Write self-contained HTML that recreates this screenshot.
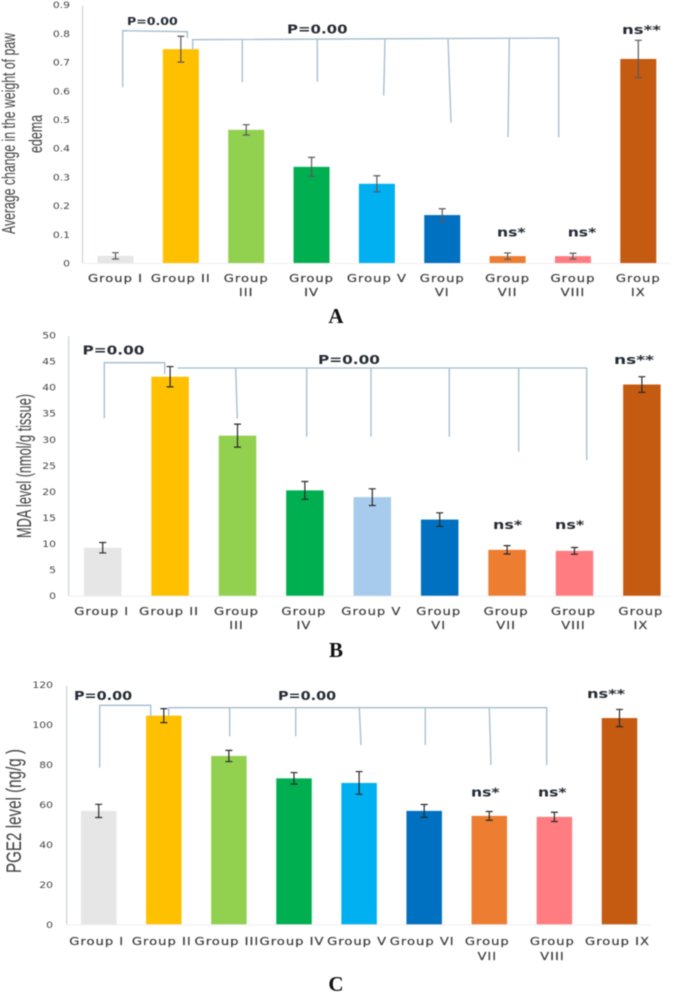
<!DOCTYPE html>
<html lang="en">
<head>
<meta charset="utf-8">
<title>Group comparison bar charts</title>
<style>
html,body{margin:0;padding:0;background:#fff;}
svg{display:block;filter:blur(0.4px);}
.tick{font-family:"DejaVu Sans","Liberation Sans",sans-serif;font-size:9px;fill:#444;}
.cat{font-family:"DejaVu Sans","Liberation Sans",sans-serif;font-size:10.5px;letter-spacing:.8px;fill:#3c3c3c;stroke:#3c3c3c;stroke-width:.2px;}
.ytitle{font-family:"Liberation Sans",sans-serif;fill:#404040;}
.sig{font-family:"DejaVu Sans","Liberation Sans",sans-serif;font-weight:bold;fill:#262b33;}
.panel{font-family:"Liberation Serif",serif;font-weight:bold;font-size:21px;fill:#111;text-anchor:middle;}
.bracket{fill:none;stroke:#a3bccd;stroke-width:1.3;}
</style>
</head>
<body>
<svg id="fig" xmlns="http://www.w3.org/2000/svg" width="676" height="992" viewBox="0 0 676 992">
  <g id="chart-a"></g>
  <g id="chart-b"></g>
  <g id="chart-c"></g>

  <!-- Chart A annotations -->
  <g>
    <text class="ytitle" transform="translate(15,133.5) rotate(-90)" text-anchor="middle" font-size="18" textLength="201" lengthAdjust="spacingAndGlyphs">Average change in the weight of paw</text>
    <text class="ytitle" transform="translate(42,134) rotate(-90)" text-anchor="middle" font-size="18" textLength="38" lengthAdjust="spacingAndGlyphs">edema</text>
    <path class="bracket" d="M122.7 87.3V30.7L187.3 31.7V38"/>
    <path class="bracket" d="M192.7 49V39.7L558.7 38V137.3M242.3 39.5V82.3M317.3 39.3V81.7M385 39 383.7 95.7M448 38.5 451 122.7M509.3 38.3 508 137.3"/>
    <text class="sig" transform="translate(127,25) scale(1.2,1)" font-size="10.5">P=0.00</text>
    <text class="sig" transform="translate(287,33.5) scale(1.25,1)" font-size="12">P=0.00</text>
    <text class="sig" transform="translate(497,236.7) scale(1.3,1)" font-size="12">ns*</text>
    <text class="sig" transform="translate(567.7,236.7) scale(1.3,1)" font-size="12">ns*</text>
    <text class="sig" transform="translate(622,34) scale(1.38,1)" font-size="12">ns**</text>
    <text class="panel" x="336" y="323">A</text>
  </g>

  <!-- Chart B annotations -->
  <g>
    <text class="ytitle" transform="translate(31,466) rotate(-90)" text-anchor="middle" font-size="20" textLength="144" lengthAdjust="spacingAndGlyphs">MDA level (nmol/g tissue)</text>
    <path class="bracket" d="M104.3 418.3V362.7H164.7V374"/>
    <path class="bracket" d="M177.7 368H586.7V460.3M235.7 368 237.3 418.7M306.7 368V436.7M371 368V436.7M449.3 368V436.7M518.7 368V451.7"/>
    <text class="sig" transform="translate(82.5,354.3) scale(1.28,1)" font-size="12">P=0.00</text>
    <text class="sig" transform="translate(318,364) scale(1.28,1)" font-size="12">P=0.00</text>
    <text class="sig" transform="translate(493,529) scale(1.33,1)" font-size="12">ns*</text>
    <text class="sig" transform="translate(555,529) scale(1.33,1)" font-size="12">ns*</text>
    <text class="sig" transform="translate(614,364) scale(1.42,1)" font-size="12">ns**</text>
    <text class="panel" x="336" y="657">B</text>
  </g>

  <!-- Chart C annotations -->
  <g>
    <text class="ytitle" transform="translate(21,811) rotate(-90)" text-anchor="middle" font-size="21" textLength="124" lengthAdjust="spacingAndGlyphs">PGE2 level (ng/g )</text>
    <path class="bracket" d="M99.7 767.7V705.3H150.7V717.3"/>
    <path class="bracket" d="M168.7 715.7V707.7H546.7V765M229.7 707.7V736.3M295.7 707.7V736.3M359.3 707.7 361 745M425.3 707.7V745M489.3 707.7 491 765"/>
    <text class="sig" transform="translate(74,700) scale(1.2,1)" font-size="12">P=0.00</text>
    <text class="sig" transform="translate(278,700) scale(1.2,1)" font-size="12">P=0.00</text>
    <text class="sig" transform="translate(471,796.7) scale(1.3,1)" font-size="12">ns*</text>
    <text class="sig" transform="translate(538,796.7) scale(1.3,1)" font-size="12">ns*</text>
    <text class="sig" transform="translate(587,698) scale(1.35,1)" font-size="12">ns**</text>
    <text class="panel" x="336" y="991">C</text>
  </g>
</svg>

<script>
// ---- Data ----
const categoriesWrapped = [['Group I'],['Group II'],['Group','III'],['Group','IV'],['Group V'],['Group','VI'],['Group','VII'],['Group','VIII'],['Group','IX']];
const categoriesC = [['Group I'],['Group II'],['Group III'],['Group IV'],['Group V'],['Group VI'],['Group','VII'],['Group','VIII'],['Group IX']];

const valuesA = [0.025, 0.745, 0.464, 0.335, 0.276, 0.167, 0.024, 0.024, 0.711];
const errorsA = [0.011, 0.045, 0.018, 0.033, 0.028, 0.022, 0.011, 0.010, 0.065];
const ticksA = ['0','0.1','0.2','0.3','0.4','0.5','0.6','0.7','0.8','0.9'];

const valuesB = [9.2, 42.0, 30.7, 20.2, 18.9, 14.6, 8.8, 8.6, 40.5];
const errorsB = [1.0, 1.95, 2.2, 1.7, 1.6, 1.3, 0.8, 0.65, 1.5];
const ticksB = ['0','5','10','15','20','25','30','35','40','45','50'];

const valuesC = [56.8, 104.5, 84.3, 73.1, 70.8, 56.8, 54.3, 53.8, 103.3];
const errorsC = [3.3, 3.5, 2.8, 2.9, 5.7, 3.2, 2.2, 2.3, 4.3];
const ticksC = ['0','20','40','60','80','100','120'];

const colorsA = ['#e7e6e6','#ffc000','#92d050','#00b050','#00b0f0','#0070c0','#ed7d31','#ff7c80','#c55a11'];
const colorsB = ['#e7e6e6','#ffc000','#92d050','#00b050','#a6cbec','#0070c0','#ed7d31','#ff7c80','#c55a11'];
const colorsC = colorsA;

const SVGNS = 'http://www.w3.org/2000/svg';

function make(parent, tag, attrs) {
  const el = document.createElementNS(SVGNS, tag);
  for (const k in attrs) el.setAttribute(k, attrs[k]);
  parent.appendChild(el);
  return el;
}

function drawChart(cfg) {
  const root = document.getElementById(cfg.id);
  const maxTick = Number(cfg.ticks[cfg.ticks.length - 1]);
  const yScale = v => cfg.y0 - (v / maxTick) * (cfg.y0 - cfg.yTop);
  const xScale = i => cfg.x0 + i * cfg.step;

  // Axes
  const yAxis = make(root, 'line', {x1: cfg.axisX, x2: cfg.axisX, y1: yScale(maxTick) + 1, y2: cfg.y0, stroke: '#ccd3d9', 'stroke-width': 1.2});
  
  
  const xAxis = make(root, 'line', {x1: cfg.axisX, x2: cfg.axisEnd, y1: cfg.y0 + 0.5, y2: cfg.y0 + 0.5, stroke: '#eeeeee', 'stroke-width': 1});
  
  

  // Y ticks
  cfg.ticks.forEach(label => {
    const t = make(root, 'text', {'class': 'tick', 'text-anchor': 'end',
      transform: 'translate(' + cfg.tickRight + ',' + (yScale(Number(label)) + 3.5) + ') scale(1.2,1)'});
    
    
    t.textContent = label;
  });

  // Bars, error bars, category labels
  cfg.values.forEach((v, i) => {
    const cx = xScale(i);
    const top = yScale(v);
    const bar = make(root, 'rect', {x: cx - cfg.barW / 2, y: top, width: cfg.barW, height: cfg.y0 - top, fill: cfg.colors[i]});
    
    

    const hi = yScale(v + cfg.errors[i]);
    const lo = yScale(v - cfg.errors[i]);
    const ex = cx + cfg.errOffset;
    const err = make(root, 'path', {
      d: 'M' + (ex - 3.5) + ' ' + hi + 'H' + (ex + 3.5) + 'M' + ex + ' ' + hi + 'V' + lo + 'M' + (ex - 3.5) + ' ' + lo + 'H' + (ex + 3.5),
      fill: 'none', stroke: cfg.errColor, 'stroke-width': 1.2});
    
    

    cfg.categories[i].forEach((line, n) => {
      const c = make(root, 'text', {'class': 'cat', 'text-anchor': 'middle',
        transform: 'translate(' + (cx + cfg.labelOffset) + ',' + (cfg.labelY + n * cfg.lineGap) + ') scale(1.25,1)'});
      
      
      c.textContent = line;
    });
  });
}

drawChart({id: 'chart-a', values: valuesA, errors: errorsA, ticks: ticksA, categories: categoriesWrapped, colors: colorsA,
  y0: 263, yTop: 4.7, x0: 115.5, step: 65.35, barW: 36, axisX: 82.5, axisEnd: 671, tickRight: 70,
  labelY: 282, lineGap: 14, errOffset: 0, labelOffset: 0, errColor: '#5a5a5a'});
drawChart({id: 'chart-b', values: valuesB, errors: errorsB, ticks: ticksB, categories: categoriesWrapped, colors: colorsB,
  y0: 595.7, yTop: 335, x0: 102.7, step: 67.4, barW: 37.5, axisX: 68.7, axisEnd: 670, tickRight: 56,
  labelY: 615, lineGap: 14, errOffset: 0, labelOffset: -1, errColor: '#2a2a2a'});
drawChart({id: 'chart-c', values: valuesC, errors: errorsC, ticks: ticksC, categories: categoriesC, colors: colorsC,
  y0: 924.3, yTop: 684.7, x0: 98.7, step: 65.1, barW: 35.5, axisX: 66.7, axisEnd: 651, tickRight: 53,
  labelY: 945, lineGap: 15, errOffset: 0, labelOffset: -2, errColor: '#2a2a2a'});
</script>
</body>
</html>
